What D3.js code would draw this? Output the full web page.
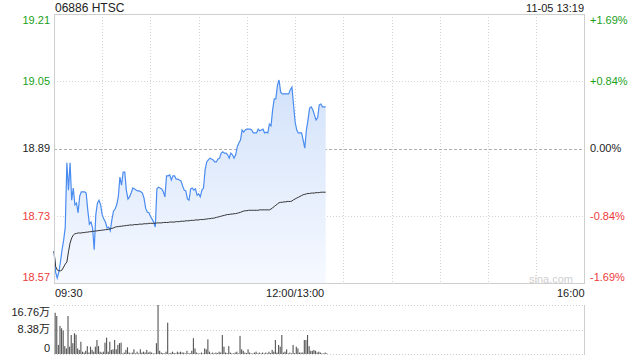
<!DOCTYPE html>
<html><head><meta charset="utf-8">
<script src="https://cdn.jsdelivr.net/npm/d3@7"></script>
<style>
body{margin:0;background:#fff}
svg{display:block}
text{font-family:"Liberation Sans",Arial,"Noto Sans CJK SC",sans-serif;}
</style></head>
<body><svg id="c" width="640" height="360"></svg>
<script>
const title = "06886 HTSC";
const stamp = "11-05 13:19";
const prevClose = 18.89;
const priceTicks = [19.21, 19.05, 18.89, 18.73, 18.57];
const pctTicks = ["+1.69%", "+0.84%", "0.00%", "-0.84%", "-1.69%"];
const timeLabels = ["09:30", "12:00/13:00", "16:00"];
const timeLabelMinutes = [0, 150, 330];
const volTickLabels = ["16.76万", "8.38万", "0"];
const volTickValues = [16.76, 8.38, 0];
const watermark = "sina.com";

// minute-by-minute last price (09:30 ... 13:19, lunch break removed)
const price = [
 18.646,18.596,18.582,18.596,18.620,18.649,18.672,18.703,18.856,18.791,
 18.856,18.767,18.796,18.756,18.760,18.737,18.777,18.787,18.787,18.787,
 18.784,18.744,18.710,18.715,18.701,18.649,18.732,18.760,18.767,18.756,
 18.732,18.722,18.715,18.701,18.703,18.694,18.720,18.741,18.746,18.756,
 18.775,18.822,18.803,18.834,18.834,18.791,18.770,18.775,18.784,18.796,
 18.794,18.791,18.789,18.789,18.787,18.784,18.772,18.748,18.739,18.737,
 18.729,18.722,18.715,18.703,18.794,18.798,18.796,18.794,18.787,18.775,
 18.825,18.825,18.827,18.815,18.825,18.825,18.817,18.817,18.815,18.813,
 18.801,18.791,18.789,18.770,18.767,18.794,18.796,18.791,18.794,18.779,
 18.782,18.775,18.791,18.796,18.839,18.858,18.863,18.867,18.865,18.863,
 18.858,18.858,18.865,18.867,18.879,18.882,18.879,18.879,18.875,18.867,
 18.879,18.875,18.867,18.875,18.894,18.903,18.910,18.934,18.929,18.934,
 18.936,18.936,18.936,18.934,18.927,18.927,18.927,18.936,18.932,18.934,
 18.936,18.927,18.929,18.927,18.948,18.944,18.982,19.008,19.008,19.041,
 19.053,19.024,19.020,19.020,19.020,19.020,19.020,19.030,19.036,18.994,
 18.953,18.934,18.927,18.927,18.927,18.910,18.891,18.934,18.958,18.986,
 18.989,18.982,18.970,18.958,18.963,18.994,18.996,18.989,18.989,18.989];

// average price line
const avgPrice = [
 18.646,18.610,18.601,18.599,18.599,18.601,18.608,18.615,18.620,18.644,
 18.665,18.677,18.684,18.687,18.688,18.689,18.689,18.689,18.690,18.690,
 18.691,18.691,18.692,18.692,18.693,18.693,18.694,18.694,18.695,18.695,
 18.696,18.696,18.697,18.697,18.698,18.699,18.700,18.701,18.703,18.704,
 18.704,18.705,18.705,18.706,18.706,18.707,18.707,18.708,18.708,18.708,
 18.709,18.709,18.709,18.710,18.710,18.710,18.711,18.711,18.711,18.712,
 18.712,18.712,18.712,18.712,18.713,18.713,18.713,18.713,18.714,18.714,
 18.714,18.714,18.715,18.715,18.715,18.715,18.716,18.716,18.716,18.717,
 18.717,18.717,18.718,18.718,18.718,18.719,18.719,18.719,18.720,18.720,
 18.720,18.721,18.721,18.721,18.722,18.722,18.723,18.723,18.724,18.724,
 18.725,18.726,18.727,18.728,18.729,18.730,18.731,18.732,18.733,18.733,
 18.734,18.734,18.735,18.735,18.736,18.737,18.738,18.740,18.741,18.742,
 18.742,18.743,18.743,18.743,18.743,18.743,18.743,18.743,18.744,18.744,
 18.744,18.744,18.744,18.744,18.744,18.746,18.749,18.752,18.755,18.758,
 18.761,18.762,18.762,18.763,18.763,18.764,18.764,18.764,18.765,18.768,
 18.770,18.772,18.774,18.776,18.778,18.780,18.781,18.782,18.783,18.783,
 18.784,18.784,18.784,18.785,18.785,18.785,18.786,18.786,18.786,18.786];

// volume per minute, in 万 shares
const volume = [
 14.1,13.0,3.1,9.6,8.8,8.0,2.7,1.9,13.0,2.5,
 6.5,3.7,7.1,6.6,1.9,1.4,4.2,0.8,0.5,1.1,
 2.7,0.5,2.5,1.4,0.8,2.5,4.8,2.7,0.8,0.5,
 0.8,3.9,5.6,0.8,4.2,1.4,1.6,4.8,1.6,3.1,
 3.7,3.9,0.2,0.5,1.4,2.3,0.5,0.2,0.5,1.6,
 0.2,0.8,0.2,1.6,0.5,0.8,0.5,1.4,0.5,0.8,
 0.5,0.2,0.2,3.7,16.76,1.1,0.5,0.3,0.2,0.8,
 10.7,0.2,0.4,0.8,0.4,0.2,0.8,0.5,0.8,0.5,
 0.5,0.2,1.1,0.2,0.3,1.1,5.4,1.9,0.5,0.2,
 0.2,0.5,0.2,1.9,1.6,5.0,0.8,0.2,0.5,0.2,
 0.5,0.3,0.8,0.5,6.5,2.5,0.5,0.3,2.7,0.5,
 0.2,0.2,0.5,0.8,0.2,6.2,1.6,1.1,0.5,0.3,
 1.6,0.5,0.2,0.2,0.5,0.8,0.2,0.5,0.2,0.5,
 0.2,0.5,0.2,0.8,0.3,1.4,0.8,4.8,0.5,3.1,
 2.5,6.5,0.5,0.8,1.6,0.2,0.5,0.2,3.1,0.3,
 2.5,1.9,0.5,0.5,0.5,4.8,4.8,6.5,2.7,1.1,
 1.1,1.4,1.1,0.5,0.8,0.5,0.2,0.2,0.5,0.2];

const GREEN = "#1a9f1a", RED = "#ee3b3b", DARK = "#222";
const L = 54, R = 584.5, T = 14, B = 283, VT = 305, VB = 354;
const svg = d3.select("#c");

const x = d3.scaleLinear().domain([0, 330]).range([L, R]);
const y = d3.scaleLinear().domain([priceTicks[4], priceTicks[0]]).range([B, T]);
const yv = d3.scaleLinear().domain([0, volTickValues[0]]).range([VB, VT]);

const colorFor = v => Math.abs(v - prevClose) < 1e-6 ? DARK : (v > prevClose ? GREEN : RED);

// gradient
const defs = svg.append("defs");
const grad = defs.append("linearGradient").attr("id", "g").attr("gradientUnits", "userSpaceOnUse")
  .attr("x1", 0).attr("x2", 0).attr("y1", y(19.05)).attr("y2", B);
grad.append("stop").attr("offset", 0).attr("stop-color", "#d3e2fa");
grad.append("stop").attr("offset", 1).attr("stop-color", "#f6f9ff");

// vertical grid
const vgrid = d3.range(30, 330, 30);
svg.append("g").selectAll("line").data(vgrid).join("line")
  .attr("x1", d => Math.round(x(d)) + 0.5).attr("x2", d => Math.round(x(d)) + 0.5)
  .attr("y1", T).attr("y2", B).attr("stroke", "#d4d4d4").attr("stroke-dasharray", "1,2");
// horizontal grid
svg.append("g").selectAll("line").data(priceTicks.slice(1, 4)).join("line")
  .attr("x1", L).attr("x2", R)
  .attr("y1", d => Math.round(y(d)) + 0.5).attr("y2", d => Math.round(y(d)) + 0.5)
  .attr("stroke", d => d === prevClose ? "#b0b0b0" : "#d4d4d4")
  .attr("stroke-dasharray", d => d === prevClose ? "3,2" : "1,2");

// area + lines
svg.append("path").datum(price)
  .attr("d", d3.area().x((d, i) => x(i)).y0(B).y1(d => y(d)))
  .attr("fill", "url(#g)");
svg.append("path").datum(price)
  .attr("d", d3.line().x((d, i) => x(i)).y(d => y(d)))
  .attr("fill", "none").attr("stroke", "#4a8cf0").attr("stroke-width", 1.2);
svg.append("path").datum(avgPrice)
  .attr("d", d3.line().x((d, i) => x(i)).y(d => y(d)))
  .attr("fill", "none").attr("stroke", "#333").attr("stroke-width", 1);

// frame
svg.append("rect").attr("x", L + 0.5).attr("y", T + 0.5).attr("width", Math.round(R - L) - 1).attr("height", B - T)
  .attr("fill", "none").attr("stroke", "#cfcfcf");

// watermark
svg.append("text").attr("x", 573).attr("y", 283).attr("text-anchor", "end")
  .attr("font-size", 11).attr("fill", "#cfcfcf").text(watermark);

// left price labels
const lblY = (d, i) => i === 0 ? y(d) + 6 : (i === priceTicks.length - 1 ? y(d) - 6 : y(d));
svg.append("g").selectAll("text").data(priceTicks).join("text")
  .attr("x", 50).attr("y", (d, i) => lblY(d, i)).attr("dy", "0.35em")
  .attr("text-anchor", "end").attr("font-size", 11)
  .attr("fill", d => colorFor(d)).text(d => d.toFixed(2));
// right pct labels
svg.append("g").selectAll("text").data(pctTicks).join("text")
  .attr("x", 590).attr("y", (d, i) => lblY(priceTicks[i], i)).attr("dy", "0.35em")
  .attr("text-anchor", "start").attr("font-size", 11)
  .attr("fill", (d, i) => colorFor(priceTicks[i])).text(d => d);

// time labels
svg.append("g").selectAll("text").data(timeLabels).join("text")
  .attr("x", (d, i) => x(timeLabelMinutes[i]) + (i === 0 ? 1 : 0))
  .attr("y", 297).attr("font-size", 11).attr("fill", DARK)
  .attr("text-anchor", (d, i) => i === 0 ? "start" : (i === timeLabels.length - 1 ? "end" : "middle"))
  .text(d => d);

// title & stamp
svg.append("text").attr("x", 55).attr("y", 12).attr("font-size", 12).attr("fill", DARK).text(title);
svg.append("text").attr("x", 584).attr("y", 12).attr("font-size", 11).attr("fill", DARK)
  .attr("text-anchor", "end").text(stamp);

// volume panel
svg.append("g").selectAll("line").data(volTickValues).join("line")
  .attr("x1", L).attr("x2", R)
  .attr("y1", d => Math.round(yv(d)) + 0.5).attr("y2", d => Math.round(yv(d)) + 0.5)
  .attr("stroke", "#d0d0d0").attr("stroke-dasharray", "1,2");
svg.append("line").attr("x1", Math.round(R) - 0.5).attr("x2", Math.round(R) - 0.5)
  .attr("y1", VT).attr("y2", VB + 1).attr("stroke", "#cfcfcf");
svg.append("g").selectAll("rect").data(volume).join("rect")
  .attr("x", (d, i) => x(i) + 0.6).attr("width", 1.1)
  .attr("y", d => yv(d)).attr("height", d => VB - yv(d))
  .attr("fill", "#555");
svg.append("g").selectAll("text").data(volTickLabels).join("text")
  .attr("x", 50).attr("y", (d, i) => i === 0 ? yv(volTickValues[i]) + 7 : (i === 2 ? yv(volTickValues[i]) - 6 : yv(volTickValues[i])))
  .attr("dy", "0.35em").attr("text-anchor", "end").attr("font-size", 11).attr("fill", DARK)
  .text(d => d);
</script></body></html>
